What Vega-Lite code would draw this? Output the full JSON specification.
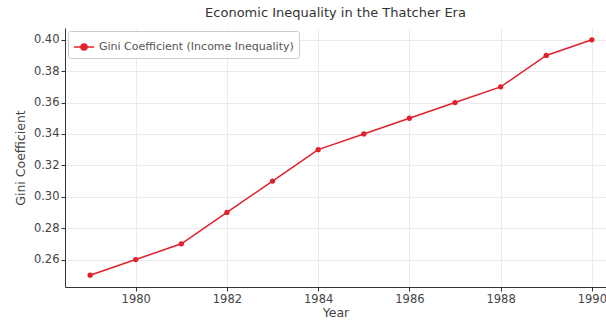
{
  "$schema": "https://vega.github.io/schema/vega-lite/v6.json",
  "autosize": "none",
  "width": 541,
  "height": 259,
  "padding": {"left": 65, "top": 28, "right": 0, "bottom": 38},
  "background": "white",
  "title": {"text": "Economic Inequality in the Thatcher Era", "fontSize": 13, "font": "DejaVu Sans", "fontWeight": "normal", "color": "#333333", "offset": 8},
  "config": {
    "view": {"stroke": null},
    "font": "DejaVu Sans",
    "axis": {"labelFont": "DejaVu Sans", "titleFont": "DejaVu Sans", "labelFontSize": 11.5, "titleFontSize": 12.5, "labelColor": "#444444", "titleColor": "#444444", "titleFontWeight": "normal", "gridColor": "#e6e6e6", "gridWidth": 0.8, "domainColor": "#333333", "tickColor": "#333333", "tickSize": 4, "domainWidth": 1}
  },
  "data": {"values": [
    {"Year": 1979, "Gini": 0.25, "Series": "Gini Coefficient (Income Inequality)"},
    {"Year": 1980, "Gini": 0.26, "Series": "Gini Coefficient (Income Inequality)"},
    {"Year": 1981, "Gini": 0.27, "Series": "Gini Coefficient (Income Inequality)"},
    {"Year": 1982, "Gini": 0.29, "Series": "Gini Coefficient (Income Inequality)"},
    {"Year": 1983, "Gini": 0.31, "Series": "Gini Coefficient (Income Inequality)"},
    {"Year": 1984, "Gini": 0.33, "Series": "Gini Coefficient (Income Inequality)"},
    {"Year": 1985, "Gini": 0.34, "Series": "Gini Coefficient (Income Inequality)"},
    {"Year": 1986, "Gini": 0.35, "Series": "Gini Coefficient (Income Inequality)"},
    {"Year": 1987, "Gini": 0.36, "Series": "Gini Coefficient (Income Inequality)"},
    {"Year": 1988, "Gini": 0.37, "Series": "Gini Coefficient (Income Inequality)"},
    {"Year": 1989, "Gini": 0.39, "Series": "Gini Coefficient (Income Inequality)"},
    {"Year": 1990, "Gini": 0.40, "Series": "Gini Coefficient (Income Inequality)"}
  ]},
  "mark": {"type": "line", "strokeWidth": 1.5, "point": {"filled": true, "size": 28, "color": "#c8102e"}},
  "encoding": {
    "x": {"field": "Year", "type": "quantitative",
      "scale": {"domain": [1978.45, 1990.31], "nice": false, "zero": false},
      "axis": {"values": [1980, 1982, 1984, 1986, 1988, 1990], "format": "d", "title": "Year", "titlePadding": 2, "labelPadding": 2}},
    "y": {"field": "Gini", "type": "quantitative",
      "scale": {"domain": [0.2425, 0.4075], "nice": false, "zero": false},
      "axis": {"values": [0.26, 0.28, 0.30, 0.32, 0.34, 0.36, 0.38, 0.40], "format": ".2f", "title": "Gini Coefficient", "titlePadding": 6, "labelPadding": 2}},
    "color": {"field": "Series", "type": "nominal",
      "scale": {"range": ["#e0202a"]},
      "legend": {"title": null, "orient": "top-left", "offset": 3, "labelFontSize": 11, "labelLimit": 400, "labelColor": "#555555", "labelFont": "DejaVu Sans",
        "symbolType": "M-1,0H1M-0.3,0A0.3,0.3 0 1,1 0.3,0A0.3,0.3 0 1,1 -0.3,0", "symbolSize": 400, "symbolStrokeWidth": 1.5, "symbolFillColor": "#c8102e",
        "strokeColor": "#cccccc", "fillColor": "white", "padding": 5, "cornerRadius": 2}}
  }
}
